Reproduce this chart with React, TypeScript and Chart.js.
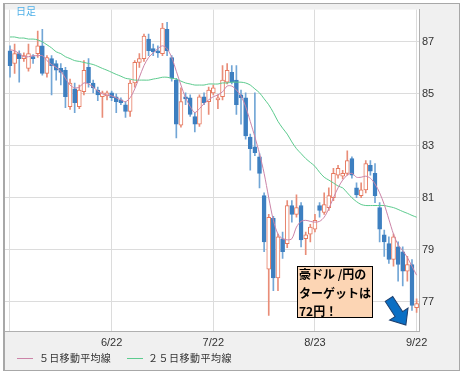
import React, { useEffect, useRef } from 'react';
import { Chart, registerables } from 'chart.js';

Chart.register(...registerables);

// Daily candles (index 0 = 5/22 ... index 88 = 9/22)
const open = [86.66,86.17,86.55,86.36,85.98,86.43,86.55,86.85,85.79,86.36, 86.17,85.98,85.91,84.51,85.19,84.51,85.08,86.02,85.42,85.15, 84.89,84.92,85.04,84.89,84.77,84.58,84.32,85.42,86.21,86.36, 87.11,86.74,86.66,86.55,87.49,86.40,85.53,83.79,84.89,84.85, 84.13,83.83,84.89,84.70,85.04,84.77,84.89,85.45,85.83,85.53, 84.96,84.85,83.34,82.96,82.58,81.08,78.25,80.21,77.91,79.42, 79.23,80.70,80.36,80.70,79.42,79.60,79.79,80.70,80.43,80.62, 81.00,81.87,81.83,81.94,82.51,81.38,81.08,81.30,82.25,81.94, 80.62,79.57,79.23,78.62,79.11,78.92,78.17,78.43,76.77];
const close = [86.09,86.55,86.36,86.47,86.55,86.36,86.85,85.79,86.40,86.09, 85.91,85.83,84.89,85.42,84.66,85.15,85.91,85.42,85.23,84.96, 85.04,85.04,84.85,84.70,84.66,84.32,85.42,86.21,86.36,87.23, 86.66,86.62,86.58,87.53,86.66,85.60,83.83,84.70,84.81,84.21, 83.83,84.89,84.66,85.15,85.23,84.85,85.53,85.91,85.45,84.58, 84.85,83.38,82.89,82.74,81.94,79.30,80.25,77.91,79.49,78.92, 80.70,80.36,80.62,79.38,79.57,79.87,80.13,80.51,80.74,81.08, 81.94,82.13,81.94,82.43,81.87,81.11,81.30,82.32,82.02,81.08, 79.79,79.30,78.62,79.49,78.43,78.17,78.43,76.85,76.92];
const high = [86.85,86.92,86.66,86.58,86.92,86.51,87.42,87.49,86.47,86.47, 86.28,86.17,86.02,85.57,85.42,85.34,86.28,86.36,85.53,85.26, 85.11,85.11,85.11,85.00,84.85,84.70,85.53,86.28,86.55,87.30, 87.30,86.92,86.85,87.72,87.75,86.47,85.60,85.23,85.04,84.96, 84.28,84.96,85.04,85.26,85.34,84.96,86.09,86.17,86.09,86.09, 85.15,85.04,83.45,85.04,82.70,81.19,80.36,80.28,79.60,79.68, 80.89,80.89,81.11,80.81,79.68,79.98,80.36,80.81,81.19,81.38, 82.13,82.25,82.06,82.81,82.58,81.57,81.57,82.43,82.43,82.32, 80.81,79.75,79.49,79.60,79.30,79.11,78.74,78.62,77.11];
const low = [85.64,85.79,85.45,86.25,85.87,86.17,86.40,85.72,85.64,84.96, 85.53,85.34,84.47,84.40,84.28,84.43,84.96,85.26,85.04,84.74, 84.09,84.77,84.74,84.28,84.58,84.09,84.13,85.26,86.02,86.25, 86.47,86.47,86.40,86.47,86.47,85.49,83.30,83.72,84.58,84.13, 83.53,83.75,84.58,84.21,84.96,84.43,84.77,85.38,85.38,84.21, 83.83,83.26,82.06,82.62,81.38,78.92,76.47,77.42,77.42,78.66, 79.08,80.06,80.25,79.11,78.81,79.30,79.68,80.25,80.36,80.51, 80.89,81.75,81.72,81.87,81.75,81.00,81.00,81.19,81.87,80.81, 79.30,78.74,78.47,78.36,77.79,77.60,77.79,76.66,76.58];

// Moving averages
const ma5 = [86.70,86.66,86.55,86.43,86.43,86.47,86.47,86.47,86.28,86.13, 86.02,85.87,85.60,85.34,85.23,85.26,85.42,85.38,85.26,85.11, 85.00,84.96,84.92,84.85,84.77,84.70,84.85,85.19,85.64,86.09, 86.40,86.58,86.74,86.85,86.74,86.40,85.87,85.34,84.85,84.51, 84.28,84.43,84.62,84.77,84.89,84.96,85.08,85.30,85.30,85.15, 84.92,84.51,83.94,83.34,82.70,81.94,81.00,80.13,79.60,79.42, 79.38,79.42,79.87,80.09,80.13,80.09,80.06,80.09,80.25,80.58, 81.00,81.38,81.68,81.87,81.94,81.79,81.79,81.83,81.75,81.53, 81.19,80.74,80.17,79.60,79.19,78.96,78.70,78.36,78.02];
const ma25 = [87.19,87.19,87.15,87.15,87.11,87.11,87.08,87.00,86.89,86.77, 86.62,86.55,86.43,86.36,86.28,86.25,86.21,86.17,86.13,86.06, 85.98,85.91,85.83,85.75,85.68,85.60,85.57,85.53,85.53,85.53, 85.53,85.57,85.60,85.64,85.64,85.60,85.57,85.49,85.42,85.38, 85.34,85.34,85.34,85.38,85.38,85.38,85.42,85.42,85.45,85.45, 85.45,85.42,85.34,85.19,85.04,84.81,84.58,84.28,83.94,83.68, 83.45,83.15,82.89,82.70,82.51,82.36,82.21,81.98,81.79,81.68, 81.57,81.45,81.38,81.19,81.00,80.85,80.74,80.70,80.70,80.70, 80.70,80.70,80.66,80.62,80.55,80.47,80.40,80.32,80.25];

const xTickIndex = [0, 22, 44, 66, 88];
const xTickLabels = ['', '6/22', '7/22', '8/23', '9/22'];
const yTicks = [77, 79, 81, 83, 85, 87];
const legendLabels = ['５日移動平均線', '２５日移動平均線'];
const noteLines = ['豪ドル /円の', 'ターゲットは', '72円！'];

const UP_BORDER = '#e6785e';
const UP_WICK = '#e98d78';
const DOWN = '#3d7fc0';
const DOWN_WICK = '#72a6d6';
const MA5_COLOR = '#cc84a8';
const MA25_COLOR = '#5ccb8e';

const panelPlugin = {
  id: 'panels',
  beforeDraw(chart: any) {
    const { ctx, chartArea: a, width, height } = chart;
    ctx.save();
    ctx.fillStyle = '#ffffff';
    ctx.fillRect(0, 0, width, height);
    ctx.fillStyle = '#f0f0f0';
    ctx.fillRect(3, 3, 457, 368);
    ctx.fillStyle = '#ffffff';
    ctx.fillRect(a.left, a.top, a.right - a.left, a.bottom - a.top);
    ctx.restore();
  },
  afterDraw(chart: any) {
    const { ctx } = chart;
    ctx.save();
    ctx.strokeStyle = '#a8a8a8';
    ctx.lineWidth = 1;
    ctx.strokeRect(3.5, 3.5, 456, 367);
    ctx.fillStyle = '#a8a8a8';
    ctx.fillRect(3, 3, 2, 368);
    ctx.restore();
  },
};

export default function App() {
  const ref = useRef<HTMLCanvasElement>(null);

  useEffect(() => {
    if (!ref.current) return;
    const up = open.map((o, i) => close[i] >= o);
    const chart = new Chart(ref.current, {
      type: 'bar',
      data: {
        datasets: [
          {
            type: 'line',
            label: legendLabels[0],
            data: ma5.map((y, i) => ({ x: i, y })),
            borderColor: MA5_COLOR,
            borderWidth: 1,
            pointRadius: 0,
            tension: 0.3,
            order: 0,
          } as any,
          {
            type: 'line',
            label: legendLabels[1],
            data: ma25.map((y, i) => ({ x: i, y })),
            borderColor: MA25_COLOR,
            borderWidth: 1,
            pointRadius: 0,
            tension: 0.3,
            order: 0,
          } as any,
          {
            type: 'bar',
            label: 'body',
            data: open.map((o, i) => ({ x: i, y: [o, close[i]] })),
            backgroundColor: up.map((u) => (u ? '#ffffff' : DOWN)),
            borderColor: up.map((u) => (u ? UP_BORDER : DOWN)),
            borderWidth: 1,
            borderSkipped: false,
            barThickness: 4,
            minBarLength: 2,
            grouped: false,
            order: 1,
          } as any,
          {
            type: 'bar',
            label: 'wick',
            data: low.map((l, i) => ({ x: i, y: [l, high[i]] })),
            backgroundColor: up.map((u) => (u ? UP_WICK : DOWN_WICK)),
            borderWidth: 0,
            barThickness: 1,
            grouped: false,
            order: 2,
          } as any,
        ],
      },
      options: {
        animation: false,
        responsive: false,
        devicePixelRatio: 1,
        events: [],
        layout: { padding: { left: 5, top: 3, right: 0, bottom: 0 } },
        plugins: {
          legend: { display: false },
          tooltip: { enabled: false },
        },
        scales: {
          x: {
            type: 'linear',
            min: -1.08,
            max: 88.52,
            offset: false,
            grid: { color: '#dcdcdc', drawTicks: false, offset: false },
            border: { display: true, color: '#b0b0b0' },
            afterBuildTicks: (scale: any) => {
              scale.ticks = xTickIndex.map((v) => ({ value: v }));
            },
            afterFit: (scale: any) => {
              scale.height = 45;
            },
            ticks: {
              autoSkip: false,
              maxRotation: 0,
              padding: 5,
              color: '#333333',
              font: { family: "'Liberation Sans', Arial, sans-serif", size: 11 },
              callback: (value: any) => {
                const k = xTickIndex.indexOf(Number(value));
                return k >= 0 ? xTickLabels[k] : '';
              },
            },
          },
          y: {
            type: 'linear',
            position: 'right',
            min: 75.868,
            max: 88.245,
            grid: { color: '#dcdcdc', drawTicks: false },
            border: { display: true, color: '#b0b0b0' },
            afterBuildTicks: (scale: any) => {
              scale.ticks = yTicks.map((v) => ({ value: v }));
            },
            afterFit: (scale: any) => {
              scale.width = 45;
            },
            ticks: {
              padding: 3,
              color: '#333333',
              font: { family: "'Liberation Sans', Arial, sans-serif", size: 11 },
              callback: (value: any) => String(value),
            },
          },
        },
      } as any,
      plugins: [panelPlugin],
    });
    return () => chart.destroy();
  }, []);

  const cjk = "'Noto Sans CJK JP', 'Noto Sans', sans-serif";

  return (
    <div style={{ position: 'fixed', left: 0, top: 0, width: 464, height: 376, background: '#fff', overflow: 'hidden' }}>
      <canvas ref={ref} width={464} height={376} style={{ position: 'absolute', left: 0, top: 0, width: 464, height: 376 }} />
      <div style={{ position: 'absolute', left: 16, top: 4, fontFamily: cjk, fontSize: 10, lineHeight: '14px', color: '#4fb0e8' }}>日足</div>

      <div style={{ position: 'absolute', left: 17, top: 358, width: 16, height: 1, background: MA5_COLOR }} />
      <div style={{ position: 'absolute', left: 39, top: 351, fontFamily: cjk, fontSize: 10, lineHeight: '14px', letterSpacing: '0.3px', color: '#333', whiteSpace: 'nowrap' }}>{legendLabels[0]}</div>
      <div style={{ position: 'absolute', left: 127, top: 358, width: 16, height: 1, background: MA25_COLOR }} />
      <div style={{ position: 'absolute', left: 148, top: 351, fontFamily: cjk, fontSize: 10, lineHeight: '14px', letterSpacing: '0.5px', color: '#333', whiteSpace: 'nowrap' }}>{legendLabels[1]}</div>

      <div style={{ position: 'absolute', left: 297, top: 266, width: 76, height: 52, boxSizing: 'border-box', background: '#fcd5b4', border: '1px solid #000' }}>
        <div style={{ marginTop: -2, paddingLeft: 1, fontFamily: cjk, fontWeight: 700, fontSize: 12, lineHeight: '18.5px', color: '#000', whiteSpace: 'nowrap' }}>
          {noteLines.map((t, i) => (
            <div key={i}>{t}</div>
          ))}
        </div>
      </div>

      <svg width={464} height={376} style={{ position: 'absolute', left: 0, top: 0, pointerEvents: 'none' }}>
        <g transform="translate(389 299) rotate(57)">
          <polygon points="0,-4.5 18,-4.5 18,-11 31,0 18,11 18,4.5 0,4.5" fill="#0a6fc4" stroke="#1d3f6e" strokeWidth={1} />
        </g>
      </svg>
    </div>
  );
}
